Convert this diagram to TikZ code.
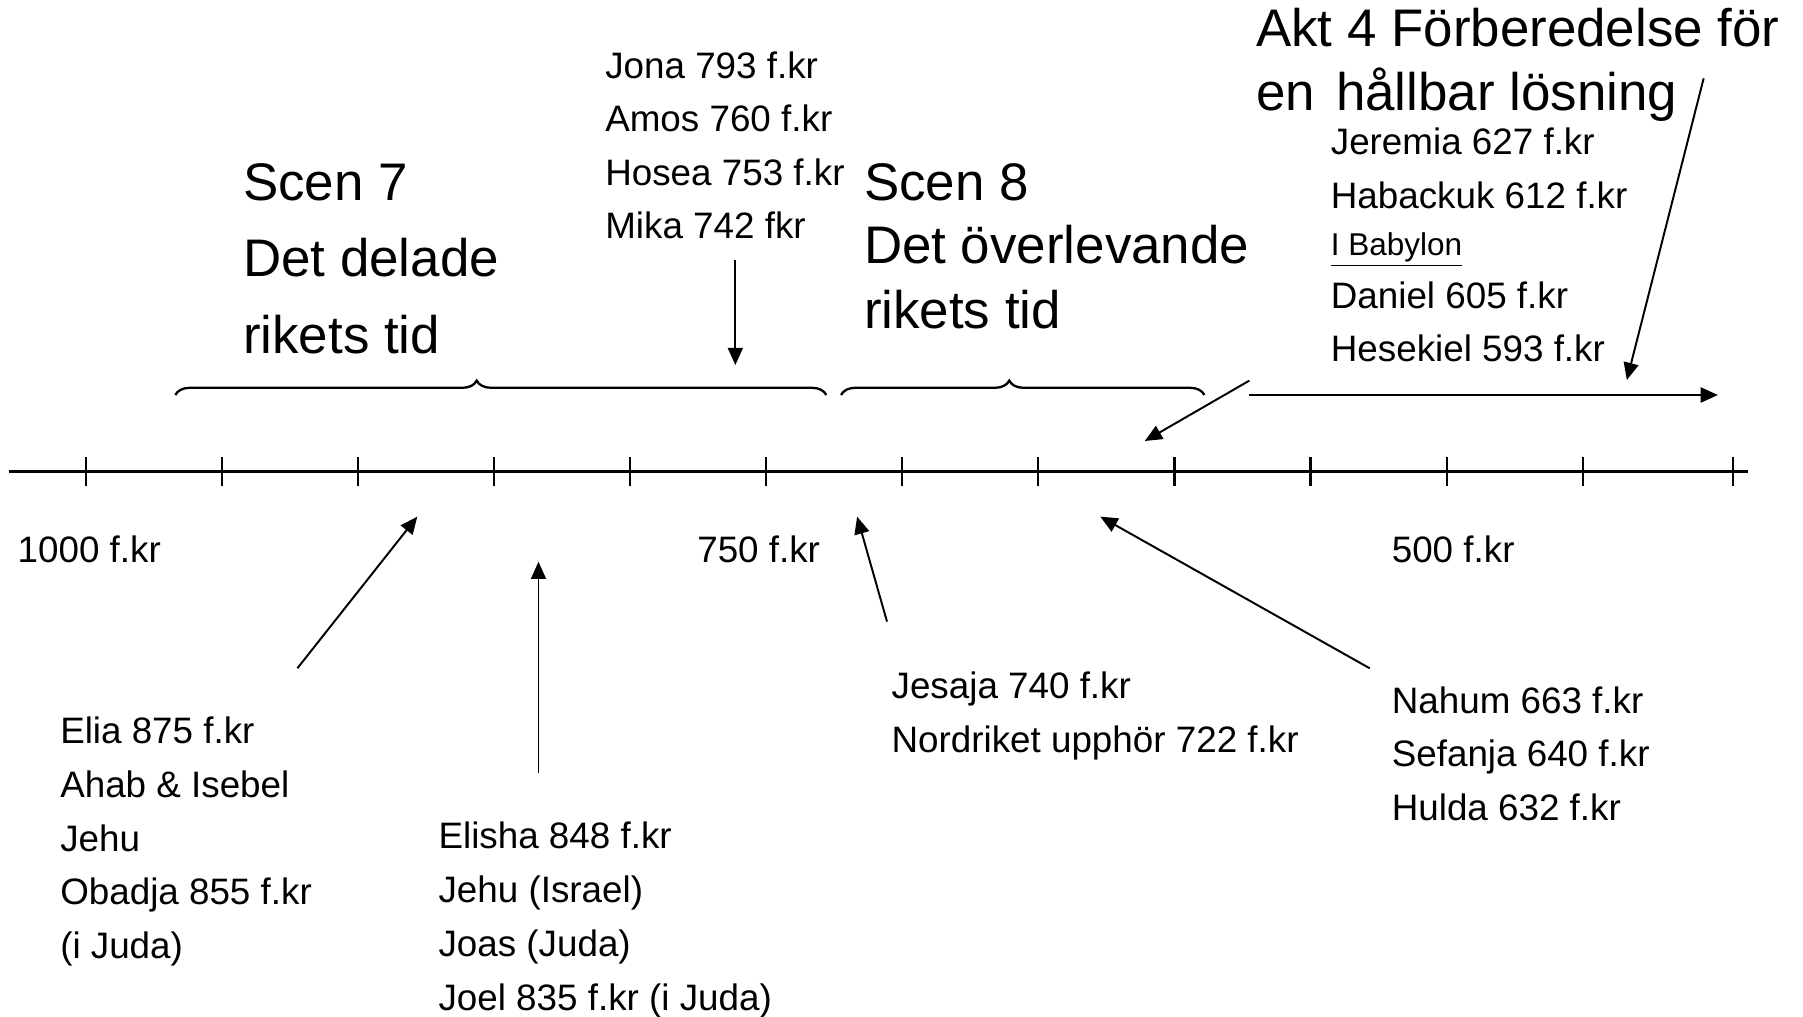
\documentclass[tikz,border=0pt]{standalone}
\usepackage{fontspec}
\setmainfont{Liberation Sans}
\usetikzlibrary{arrows.meta,decorations.pathreplacing}
\begin{document}
\begin{tikzpicture}[x=0.5pt,y=-0.5pt,
  sm/.style={font=\fontsize{16}{19}\selectfont,anchor=base west,inner sep=0pt},
  bg/.style={font=\fontsize{23}{28}\selectfont,anchor=base west,inner sep=0pt},
  smaller/.style={font=\fontsize{13.7}{16}\selectfont,anchor=base west,inner sep=0pt},
  arr/.style={-{Triangle[length=7.5pt,width=6.5pt]},line width=0.85pt},
  tickline/.style={line width=0.9pt},
  axisline/.style={line width=1.4pt},
  brc/.style={decorate,decoration={brace,amplitude=6.25pt,aspect=0.463},line width=1pt},
]
\useasboundingbox (0,0) rectangle (1568,883.6);

% timeline
\coordinate (axL) at (7.5,410);
\coordinate (axR) at (1520.5,410);
\draw[axisline] (axL) -- (axR);
\foreach \k in {0,...,11}{
  \draw[tickline] ({75+118.3*\k},397.5) -- ({75+118.3*\k},422.5);
}
\draw[tickline] (1507,397.5) -- (1507,422.5);

% braces
\draw[brc] (152.5,343.5) -- (718.6,343.5);
\draw[brc] (731.4,343.5) -- (1047.4,343.5);

% big titles
\node[bg] (s7a) at (211,174) {Scen 7};
\node[bg] (s7b) at (211,240.7) {Det delade};
\node[bg] (s7c) at (211,307.3) {rikets tid};
\node[bg] (s8a) at (751,174) {Scen 8};
\node[bg] (s8b) at (751,229.5) {Det överlevande};
\node[bg] (s8c) at (751,285.5) {rikets tid};
\node[bg] (akta) at (1092,40.6) {Akt 4 Förberedelse för};
\node[bg] (aktb) at (1092,95.7) {en\hspace{0.4em}hållbar lösning};

% upper prophets
\node[sm] (jona) at (526,68) {Jona 793 f.kr};
\node[sm] (amos) at (526,114.5) {Amos 760 f.kr};
\node[sm] (hosea) at (526,161) {Hosea 753 f.kr};
\node[sm] (mika) at (526,207.5) {Mika 742 fkr};

\node[sm] (jeremia) at (1157,134) {Jeremia 627 f.kr};
\node[sm] (habackuk) at (1157,181) {Habackuk 612 f.kr};
\node[smaller] (babylon) at (1157,222) {\underline{I Babylon}};
\node[sm] (daniel) at (1157,268) {Daniel 605 f.kr};
\node[sm] (hesekiel) at (1157,314) {Hesekiel 593 f.kr};

% axis labels
\node[sm] (y1000) at (15,489.5) {1000 f.kr};
\node[sm] (y750) at (606,489.5) {750 f.kr};
\node[sm] (y500) at (1210,489.5) {500 f.kr};

% lower prophets
\node[sm] (elia) at (52,646.5) {Elia 875 f.kr};
\node[sm] (ahab) at (52,693.3) {Ahab \& Isebel};
\node[sm] (jehu) at (52,740.1) {Jehu};
\node[sm] (obadja) at (52,786.9) {Obadja 855 f.kr};
\node[sm] (ijuda) at (52,833.7) {(i Juda)};

\node[sm] (elisha) at (381,738) {Elisha 848 f.kr};
\node[sm] (jehuis) at (381,784.8) {Jehu (Israel)};
\node[sm] (joas) at (381,831.6) {Joas (Juda)};
\node[sm] (joel) at (381,878.4) {Joel 835 f.kr (i Juda)};

\node[sm] (jesaja) at (775,607.3) {Jesaja 740 f.kr};
\node[sm] (nordriket) at (775,654) {Nordriket upphör 722 f.kr};

\node[sm] (nahum) at (1210,620.3) {Nahum 663 f.kr};
\node[sm] (sefanja) at (1210,667) {Sefanja 640 f.kr};
\node[sm] (hulda) at (1210,713.7) {Hulda 632 f.kr};

% arrow end points
\coordinate (mikaS) at (639.5,226);
\coordinate (mikaE) at (639.5,317.5);
\coordinate (eliaS) at (258.6,581.2);
\coordinate (eliaE) at (362.9,449.3);
\coordinate (elishaS) at (468.3,672.5);
\coordinate (elishaE) at (468.3,488.5);
\coordinate (jesajaS) at (771.4,540.6);
\coordinate (jesajaE) at (745.4,449.3);
\coordinate (nahumS) at (1191.2,581.2);
\coordinate (nahumE) at (956.9,449.3);
\coordinate (aktS) at (1481.6,68.1);
\coordinate (aktE) at (1414.8,330.5);
\coordinate (slashS) at (1086.5,331);
\coordinate (slashE) at (995.6,383.5);
\coordinate (horS) at (1086.5,343.5);
\coordinate (horE) at (1494,343.5);

\draw[arr] (mikaS) -- (mikaE);
\draw[arr] (eliaS) -- (eliaE);
\draw[arr] (elishaS) -- (elishaE);
\draw[arr] (jesajaS) -- (jesajaE);
\draw[arr] (nahumS) -- (nahumE);
\draw[arr] (aktS) -- (aktE);
\draw[arr] (slashS) -- (slashE);
\draw[arr,line width=1.1pt] (horS) -- (horE);
\end{tikzpicture}
\end{document}
